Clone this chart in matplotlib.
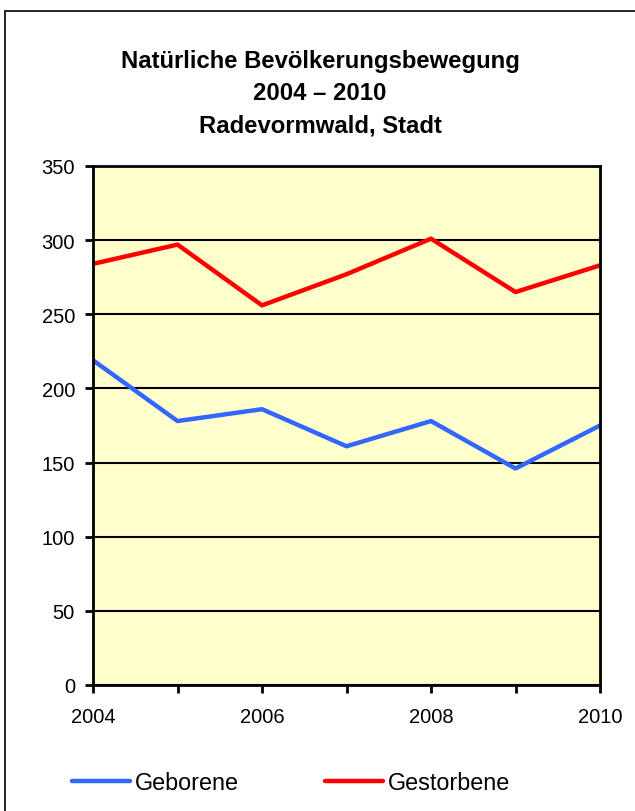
import matplotlib.pyplot as plt
from matplotlib.patches import Rectangle

plt.rcParams['font.family'] = ['Liberation Sans', 'DejaVu Sans']

jahre = [2004, 2005, 2006, 2007, 2008, 2009, 2010]
geborene = [219, 178, 186, 161, 178, 146, 175]
gestorbene = [284, 297, 256, 277, 301, 265, 283]
titel = "Natürliche Bevölkerungsbewegung\n2004 – 2010\nRadevormwald, Stadt"

fig = plt.figure(figsize=(6.35, 8.12), dpi=100)
ax = fig.add_axes([93/635, 1-686/812, (600-93)/635, (686-167)/812])
ax.set_facecolor('#FFFFCC')

# rahmen um die ganze grafik
fig.patches.append(Rectangle((5/635, -0.1), 1.2, 1.1-12/812, transform=fig.transFigure,
                             fill=False, edgecolor='black', lw=1.2))

ax.plot(jahre, geborene, color='#3366FF', lw=3.2, label='Geborene', solid_capstyle='round')
ax.plot(jahre, gestorbene, color='#FF0000', lw=3.2, label='Gestorbene', solid_capstyle='round')

ax.set_xlim(2004, 2010)
ax.set_ylim(0, 350)
ax.set_yticks(range(0, 351, 50))
ax.set_xticks(jahre)
ax.set_xticklabels([str(j) if j % 2 == 0 else '' for j in jahre])
ax.yaxis.grid(True, color='black', lw=1.5)
ax.set_axisbelow(True)
for s in ax.spines.values():
    s.set_linewidth(2)
ax.tick_params(axis='both', length=6, width=2, labelsize=14.5, colors='black')
ax.tick_params(axis='x', pad=10)
ax.tick_params(axis='y', pad=7)

fig.text(320/635, 1-94/812, titel, ha='center', va='center', fontsize=17.2,
         fontweight='bold', linespacing=1.52)

fig.legend(loc='center', bbox_to_anchor=(291/635, 1-784/812), ncol=2, frameon=False,
           fontsize=16.8, handlelength=2.5, handletextpad=0.2, columnspacing=3.7)

fig.savefig('out.png', dpi=100)
